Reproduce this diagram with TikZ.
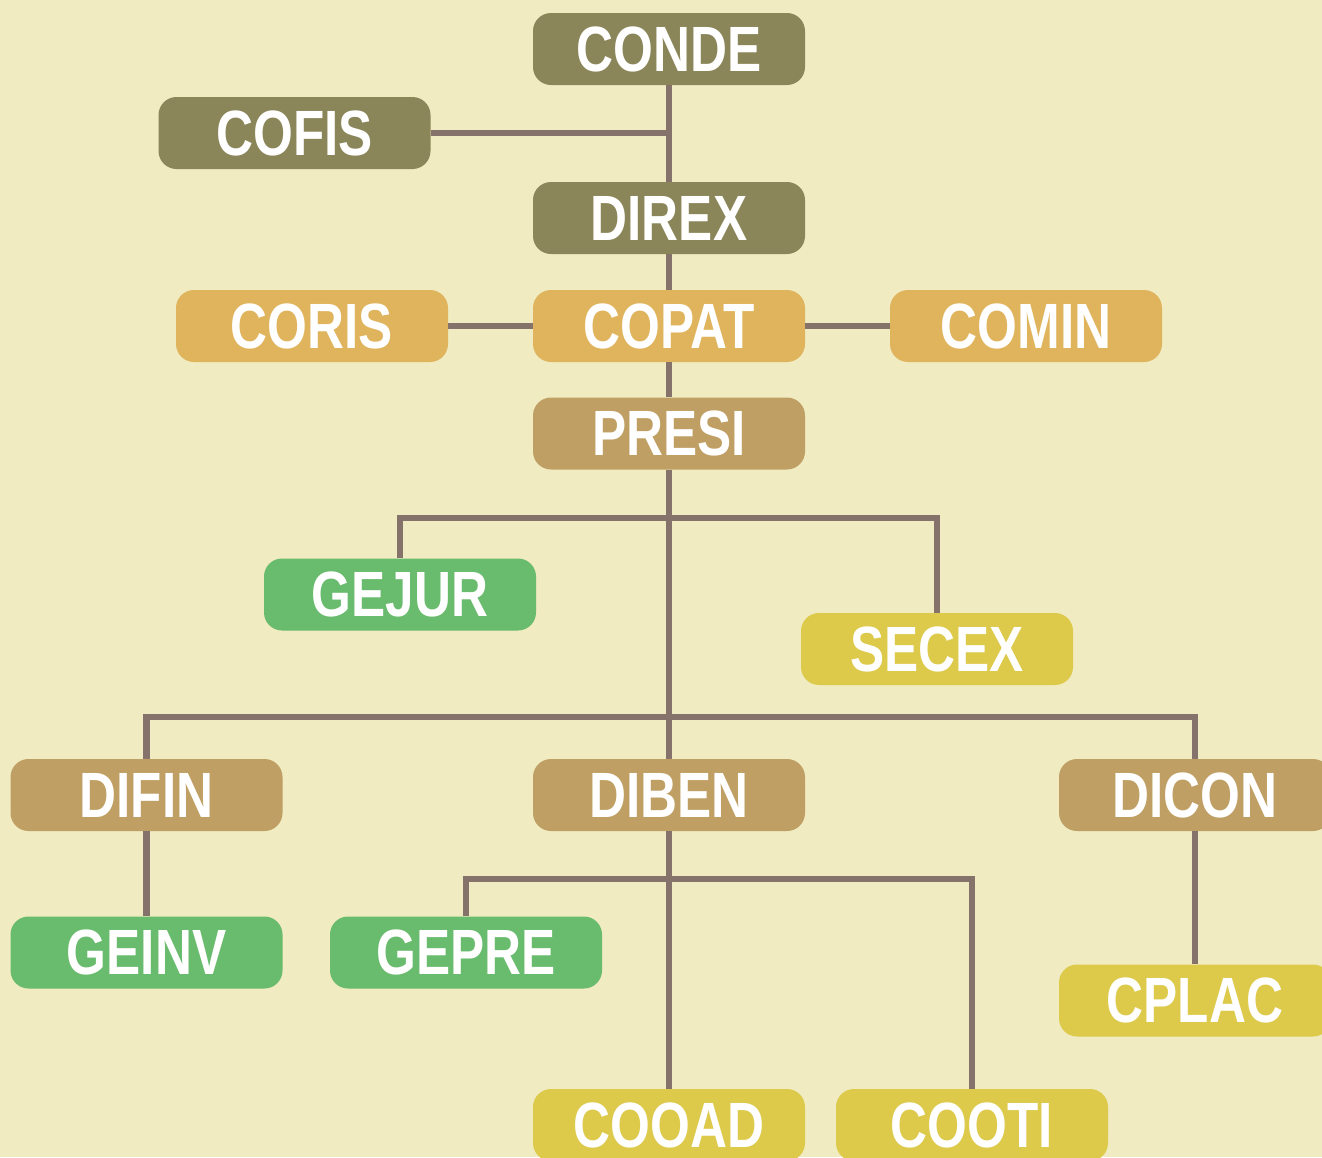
\documentclass[tikz,border=0pt]{standalone}
\usepackage{fontspec}
\newfontfamily\boxfont[FakeStretch=0.8]{Liberation Sans}
\definecolor{bgc}{HTML}{F0EBC1}
\definecolor{linec}{HTML}{85736B}
\definecolor{olive}{HTML}{8B8659}
\definecolor{orangec}{HTML}{E0B45C}
\definecolor{tan}{HTML}{BF9F63}
\definecolor{greenc}{HTML}{69BB6D}
\definecolor{yellowc}{HTML}{DDC94A}
\tikzset{
  org/.style={rounded corners=18pt, minimum width=272pt, minimum height=72pt,
    inner sep=0pt, text=white, font=\boxfont\bfseries\fontsize{64}{64}\selectfont},
  conn/.style={draw=linec, line width=6.5pt}
}
\begin{document}
\begin{tikzpicture}[x=1pt,y=-1pt]
\fill[bgc] (0,0) rectangle (1322,1157);
\useasboundingbox (0,0) rectangle (1322,1157);
\clip (0,0) rectangle (1322,1157);
\node[org, fill=olive] (conde) at (669,49) {CONDE};
\node[org, fill=olive] (cofis) at (294.5,133) {COFIS};
\node[org, fill=olive] (direx) at (669,218) {DIREX};
\node[org, fill=orangec] (coris) at (312,326) {CORIS};
\node[org, fill=orangec] (copat) at (669,326) {COPAT};
\node[org, fill=orangec] (comin) at (1026,326) {COMIN};
\node[org, fill=tan] (presi) at (669,433.5) {PRESI};
\node[org, fill=greenc] (gejur) at (400,594.5) {GEJUR};
\node[org, fill=yellowc] (secex) at (937,649) {SECEX};
\node[org, fill=tan] (difin) at (146.5,795) {DIFIN};
\node[org, fill=tan] (diben) at (669,795) {DIBEN};
\node[org, fill=tan] (dicon) at (1195,795) {DICON};
\node[org, fill=greenc] (geinv) at (146.5,952.5) {GEINV};
\node[org, fill=greenc] (gepre) at (466,952.5) {GEPRE};
\node[org, fill=yellowc] (cplac) at (1195,1000.5) {CPLAC};
\node[org, fill=yellowc] (cooad) at (669,1125) {COOAD};
\node[org, fill=yellowc] (cooti) at (972,1125) {COOTI};
\coordinate (j1) at (669,518);
\coordinate (j2) at (669,717);
\coordinate (j3) at (669,879);
\draw[conn] (conde.south) -- (direx.north);
\draw[conn] (cofis.east) -- (cofis.east -| conde.south);
\draw[conn] (direx.south) -- (copat.north);
\draw[conn] (coris.east) -- (copat.west);
\draw[conn] (copat.east) -- (comin.west);
\draw[conn] (copat.south) -- (presi.north);
\draw[conn] (presi.south) -- (diben.north);
\draw[conn] (gejur.north) |- (j1) -| (secex.north);
\draw[conn] (difin.north) |- (j2) -| (dicon.north);
\draw[conn] (difin.south) -- (geinv.north);
\draw[conn] (dicon.south) -- (cplac.north);
\draw[conn] (diben.south) -- (cooad.north);
\draw[conn] (gepre.north) |- (j3) -| (cooti.north);
\end{tikzpicture}
\end{document}
